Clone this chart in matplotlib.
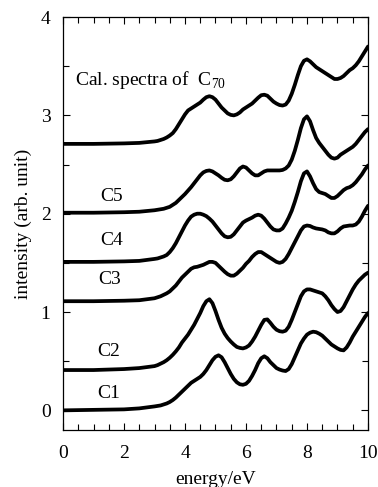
import matplotlib
matplotlib.use('Agg')
import matplotlib.pyplot as plt
from matplotlib.ticker import MultipleLocator

plt.rcParams['font.family'] = ['Liberation Serif', 'DejaVu Serif']
plt.rcParams['mathtext.fontset'] = 'custom'
plt.rcParams['mathtext.rm'] = 'Liberation Serif'

# energy (eV) at which the curves were read; 0.1 eV steps from 3 to 10
energy = [0, 1, 2, 2.5,
          3.0, 3.1, 3.2, 3.3, 3.4, 3.5, 3.6, 3.7, 3.8, 3.9,
          4.0, 4.1, 4.2, 4.3, 4.4, 4.5, 4.6, 4.7, 4.8, 4.9,
          5.0, 5.1, 5.2, 5.3, 5.4, 5.5, 5.6, 5.7, 5.8, 5.9,
          6.0, 6.1, 6.2, 6.3, 6.4, 6.5, 6.6, 6.7, 6.8, 6.9,
          7.0, 7.1, 7.2, 7.3, 7.4, 7.5, 7.6, 7.7, 7.8, 7.9,
          8.0, 8.1, 8.2, 8.3, 8.4, 8.5, 8.6, 8.7, 8.8, 8.9,
          9.0, 9.1, 9.2, 9.3, 9.4, 9.5, 9.6, 9.7, 9.8, 9.9,
          10.0]

cal = [2.71, 2.71, 2.715, 2.72,
       2.735, 2.74, 2.75, 2.76, 2.775, 2.795, 2.82, 2.86, 2.91, 2.96,
       3.01, 3.05, 3.07, 3.09, 3.11, 3.13, 3.16, 3.185, 3.195, 3.185,
       3.16, 3.12, 3.08, 3.05, 3.02, 3.005, 3.00, 3.01, 3.03, 3.06,
       3.08, 3.10, 3.12, 3.15, 3.18, 3.205, 3.21, 3.20, 3.17, 3.14,
       3.12, 3.105, 3.10, 3.11, 3.15, 3.22, 3.31, 3.41, 3.50, 3.555,
       3.57, 3.55, 3.52, 3.49, 3.47, 3.45, 3.43, 3.41, 3.39, 3.37,
       3.37, 3.38, 3.40, 3.43, 3.46, 3.48, 3.51, 3.55, 3.60, 3.65,
       3.70]
c5 = [2.01, 2.01, 2.015, 2.02,
      2.035, 2.04, 2.045, 2.05, 2.06, 2.07, 2.09, 2.11, 2.14, 2.17,
      2.20, 2.235, 2.27, 2.31, 2.35, 2.39, 2.42, 2.435, 2.44, 2.43,
      2.41, 2.39, 2.365, 2.345, 2.34, 2.35, 2.38, 2.42, 2.46, 2.48,
      2.47, 2.44, 2.41, 2.39, 2.39, 2.41, 2.43, 2.44, 2.44, 2.44,
      2.44, 2.44, 2.445, 2.46, 2.49, 2.55, 2.64, 2.75, 2.87, 2.96,
      2.99, 2.94, 2.85, 2.77, 2.72, 2.68, 2.64, 2.60, 2.57, 2.56,
      2.57, 2.60, 2.62, 2.64, 2.66, 2.68, 2.71, 2.75, 2.79, 2.83,
      2.86]
c4 = [1.51, 1.51, 1.515, 1.52,
      1.54, 1.545, 1.555, 1.565, 1.58, 1.61, 1.65, 1.70, 1.76, 1.82,
      1.88, 1.93, 1.97, 1.99, 2.00, 2.00, 1.99, 1.975, 1.95, 1.92,
      1.88, 1.84, 1.80, 1.77, 1.76, 1.765, 1.79, 1.83, 1.87, 1.91,
      1.93, 1.945, 1.96, 1.98, 1.99, 1.98, 1.95, 1.91, 1.87, 1.84,
      1.83, 1.83, 1.85, 1.90, 1.96, 2.03, 2.12, 2.22, 2.33, 2.41,
      2.43, 2.38, 2.31, 2.25, 2.22, 2.21, 2.20, 2.18, 2.16, 2.16,
      2.18, 2.21, 2.24, 2.26, 2.27, 2.29, 2.32, 2.36, 2.40, 2.45,
      2.49]
c3 = [1.11, 1.11, 1.115, 1.12,
      1.14, 1.15, 1.16, 1.175, 1.19, 1.21, 1.24, 1.27, 1.31, 1.35,
      1.38, 1.41, 1.44, 1.455, 1.46, 1.47, 1.48, 1.495, 1.51, 1.51,
      1.50, 1.47, 1.44, 1.41, 1.385, 1.37, 1.37, 1.39, 1.42, 1.45,
      1.49, 1.52, 1.56, 1.59, 1.61, 1.61, 1.59, 1.57, 1.55, 1.53,
      1.51, 1.50, 1.51, 1.54, 1.59, 1.65, 1.71, 1.77, 1.83, 1.87,
      1.88, 1.875, 1.86, 1.85, 1.845, 1.84, 1.83, 1.81, 1.80, 1.80,
      1.82, 1.85, 1.87, 1.875, 1.88, 1.88, 1.89, 1.92, 1.97, 2.03,
      2.08]
c2 = [0.41, 0.41, 0.42, 0.43,
      0.45, 0.46, 0.475, 0.49, 0.51, 0.535, 0.565, 0.60, 0.64, 0.69,
      0.73, 0.77, 0.82, 0.87, 0.93, 0.99, 1.06, 1.11, 1.13, 1.09,
      1.01, 0.92, 0.84, 0.78, 0.735, 0.70, 0.67, 0.645, 0.635, 0.63,
      0.64, 0.66, 0.70, 0.75, 0.81, 0.87, 0.92, 0.925, 0.89, 0.85,
      0.82, 0.805, 0.80, 0.81, 0.85, 0.92, 1.00, 1.08, 1.16, 1.21,
      1.23, 1.23, 1.22, 1.21, 1.20, 1.19, 1.16, 1.12, 1.07, 1.03,
      1.00, 1.01, 1.05, 1.11, 1.17, 1.23, 1.28, 1.32, 1.35, 1.38,
      1.40]
c1 = [0.0, 0.005, 0.01, 0.02,
      0.04, 0.045, 0.05, 0.06, 0.07, 0.085, 0.105, 0.13, 0.16, 0.19,
      0.22, 0.25, 0.28, 0.30, 0.32, 0.34, 0.37, 0.41, 0.46, 0.51,
      0.545, 0.56, 0.54, 0.49, 0.43, 0.37, 0.32, 0.285, 0.265, 0.26,
      0.27, 0.30, 0.35, 0.41, 0.48, 0.53, 0.55, 0.53, 0.49, 0.46,
      0.43, 0.415, 0.405, 0.40, 0.42, 0.47, 0.54, 0.61, 0.68, 0.73,
      0.77, 0.79, 0.80, 0.795, 0.78, 0.76, 0.73, 0.70, 0.67, 0.65,
      0.63, 0.615, 0.61, 0.64, 0.69, 0.75, 0.80, 0.85, 0.90, 0.95,
      0.99]

labels = ['C5', 'C4', 'C3', 'C2', 'C1']
label_x = [1.21, 1.21, 1.15, 1.12, 1.12]
label_y = [2.18, 1.73, 1.33, 0.60, 0.17]

fig = plt.figure(figsize=(3.78, 4.87), dpi=100)
ax = fig.add_axes([0.1667, 0.117, 0.8068, 0.848])

for spec in [cal, c5, c4, c3, c2, c1]:
    ax.plot(energy, spec, color='black', lw=2.7, solid_capstyle='round',
            solid_joinstyle='round')

for lab, lx, ly in zip(labels, label_x, label_y):
    ax.text(lx, ly, lab, fontsize=14, va='center', ha='left')
ax.text(0.39, 3.36, r'Cal. spectra of  C$_{70}$', fontsize=14,
        va='center', ha='left')

ax.set_xlim(0, 10)
ax.set_ylim(-0.2, 4)
ax.xaxis.set_major_locator(MultipleLocator(2))
ax.xaxis.set_minor_locator(MultipleLocator(0.5))
ax.yaxis.set_major_locator(MultipleLocator(1))
ax.yaxis.set_minor_locator(MultipleLocator(0.5))
ax.tick_params(which='both', direction='in', top=True, right=True,
               labelsize=14, width=0.8)
ax.tick_params(which='major', length=5)
ax.tick_params(which='minor', length=4)
ax.tick_params(axis='x', which='major', pad=11)
ax.tick_params(axis='y', which='major', pad=9)
for s in ax.spines.values():
    s.set_linewidth(0.9)

ax.set_xlabel('energy/eV', fontsize=14, labelpad=6)
ax.set_ylabel('intensity (arb. unit)', fontsize=14, labelpad=6)

fig.savefig('out.png', dpi=100)
